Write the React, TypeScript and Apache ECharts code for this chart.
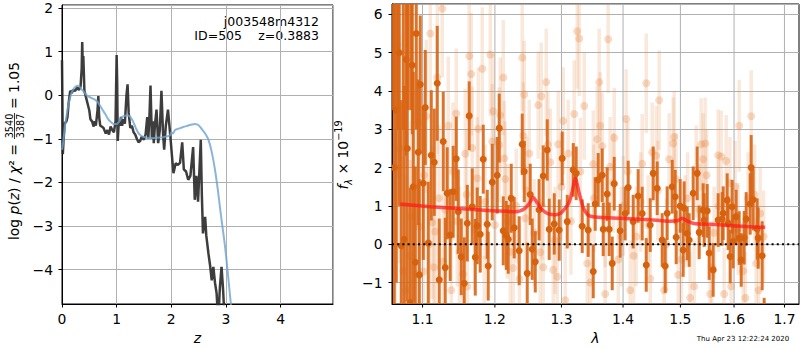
import { useEffect, useRef } from 'react';
import * as echarts from 'echarts';

const F = 'DejaVu Sans';

// ---------- left panel: log p(z) ----------
const pzZ = [0.000,0.008,0.015,0.030,0.050,0.080,0.100,0.120,0.150,0.180,0.200,0.240,0.280,0.310,0.340,0.360,0.370,0.380,0.390,0.410,0.440,0.470,0.500,0.520,0.550,0.580,0.600,0.620,0.650,0.665,0.680,0.700,0.730,0.760,0.800,0.830,0.860,0.890,0.920,0.950,0.980,1.000,1.010,1.020,1.040,1.060,1.080,1.100,1.120,1.150,1.180,1.200,1.220,1.250,1.280,1.310,1.340,1.370,1.400,1.430,1.460,1.500,1.530,1.560,1.580,1.600,1.620,1.645,1.660,1.680,1.700,1.730,1.760,1.790,1.820,1.850,1.870,1.900,1.940,1.980,2.020,2.040,2.080,2.120,2.160,2.200,2.230,2.270,2.310,2.350,2.400,2.430,2.460,2.490,2.540,2.560,2.580,2.620,2.640,2.680,2.710,2.740,2.770,2.800,2.830,2.860,2.890,2.920,2.950,2.990,3.050];
const pzLog = [0.80,-0.20,-1.35,-1.00,-0.65,-0.60,-0.50,-0.20,0.10,0.05,0.12,0.10,0.18,0.12,0.20,0.60,1.22,0.70,0.90,0.10,-0.05,-0.20,-0.35,-0.55,-0.60,-0.72,-0.60,-0.70,-0.35,-0.02,-0.50,-0.70,-0.72,-0.75,-0.88,-0.80,-0.90,-0.72,-0.80,-0.85,-0.60,0.92,0.30,-1.05,-0.60,-0.70,-0.50,-0.70,-0.55,-0.65,0.00,0.25,-0.40,-0.75,-0.70,-0.85,-0.90,-1.00,-1.08,-1.05,-0.95,-1.02,-0.90,-0.50,-1.00,-0.50,0.22,-1.00,-0.60,-1.10,-0.70,-0.33,-1.10,-0.80,0.10,-0.90,-1.25,-0.70,-0.33,-0.90,-1.50,-1.79,-1.56,-1.60,-1.55,-1.08,-1.70,-1.75,-1.94,-1.85,-1.19,-2.40,-1.85,-2.44,-1.02,-2.30,-3.17,-2.79,-3.21,-3.63,-3.90,-4.25,-3.94,-4.30,-4.55,-5.20,-4.40,-3.94,-4.50,-5.50,-7.00];

const fitZ = [0.00,0.02,0.05,0.08,0.12,0.16,0.20,0.25,0.30,0.35,0.40,0.45,0.50,0.55,0.60,0.65,0.70,0.75,0.80,0.85,0.90,0.95,1.00,1.05,1.10,1.15,1.20,1.25,1.30,1.35,1.40,1.45,1.50,1.60,1.70,1.80,1.90,1.98,2.00,2.03,2.07,2.15,2.22,2.30,2.38,2.44,2.50,2.56,2.62,2.68,2.74,2.80,2.85,2.89,2.93,2.97,3.00,3.03,3.06,3.09,3.12];
const fitLog = [-1.25,-1.10,-0.75,-0.50,-0.20,0.00,0.12,0.20,0.22,0.15,0.08,0.00,-0.04,-0.07,-0.10,-0.15,-0.25,-0.35,-0.45,-0.56,-0.62,-0.66,-0.66,-0.60,-0.50,-0.47,-0.46,-0.50,-0.60,-0.75,-0.87,-0.93,-0.96,-0.98,-0.98,-0.97,-0.95,-0.92,-0.85,-0.88,-0.80,-0.76,-0.73,-0.70,-0.67,-0.66,-0.69,-0.78,-0.88,-1.02,-1.30,-1.71,-2.15,-2.56,-2.95,-3.33,-3.65,-4.02,-4.40,-4.78,-5.20];

// ---------- right panel: spectrum ----------
const specLam = [1.0619,1.0632,1.0658,1.0683,1.0696,1.0722,1.0748,1.0761,1.0786,1.0800,1.0813,1.0839,1.0852,1.0865,1.0878,1.0904,1.0917,1.0943,1.0957,1.0970,1.1009,1.1036,1.1076,1.1116,1.1156,1.1196,1.1223,1.1277,1.1304,1.1331,1.1372,1.1413,1.1455,1.1483,1.1524,1.1566,1.1608,1.1635,1.1677,1.1720,1.1748,1.1790,1.1833,1.1890,1.1904,1.1962,1.2034,1.2063,1.2121,1.2165,1.2194,1.2238,1.2282,1.2356,1.2401,1.2431,1.2476,1.2521,1.2551,1.2597,1.2655,1.2718,1.2780,1.2810,1.2888,1.2965,1.3012,1.3091,1.3186,1.3233,1.3329,1.3425,1.3507,1.3539,1.3588,1.3653,1.3670,1.3736,1.3769,1.3819,1.3852,1.3952,1.4036,1.4087,1.4172,1.4257,1.4326,1.4396,1.4465,1.4517,1.4587,1.4675,1.4728,1.4763,1.4853,1.4906,1.4924,1.4996,1.5050,1.5068,1.5123,1.5159,1.5232,1.5306,1.5342,1.5416,1.5435,1.5491,1.5528,1.5603,1.5697,1.5773,1.5792,1.5868,1.5887,1.5925,1.5963,1.5983,1.6041,1.6099,1.6138,1.6196,1.6235,1.6313,1.6333,1.6372,1.6451,1.6471,1.6550,1.6590];
const specFlux = [7.5,2.0,3.5,8.0,5.0,-0.04,9.0,0.13,4.82,2.5,7.0,-1.52,6.5,4.67,1.5,-0.47,5.5,2.40,-0.8,4.17,1.59,3.57,0.03,2.32,2.14,4.20,-0.93,2.68,-0.61,1.33,0.24,1.37,2.23,0.85,-0.33,-1.02,0.55,3.35,0.98,-0.34,0.48,0.26,2.22,0.52,-0.57,1.62,1.80,3.03,0.35,0.23,0.13,1.20,0.43,-0.17,2.61,1.90,-0.76,1.30,-0.13,-0.46,0.90,1.78,2.46,0.39,0.53,0.37,2.24,0.59,1.94,1.85,0.47,0.37,-0.71,1.05,1.68,1.80,0.39,1.31,0.39,-0.50,1.58,0.35,0.80,1.48,0.59,1.26,0.80,-0.54,0.50,1.85,1.46,0.11,-0.57,0.81,1.50,1.24,0.18,1.00,-0.15,0.94,0.28,0.11,1.33,1.85,0.31,0.89,0.63,0.87,-0.23,-0.67,0.63,0.66,0.81,1.15,0.55,-0.32,0.98,0.07,0.72,0.16,-0.41,0.17,0.66,1.05,2.00,1.16,0.40,0.16,-0.30,-2.20];
const specErr = [4.0,4.5,4.5,5.0,4.0,3.8,6.0,4.0,2.5,4.0,3.5,3.0,3.0,1.8,3.0,2.5,2.5,1.9,2.5,1.8,2.0,1.5,1.6,1.7,1.4,1.5,1.6,1.3,1.3,1.2,1.2,1.2,1.1,1.1,1.0,1.2,1.0,0.9,1.0,1.0,1.0,1.0,0.9,0.9,0.9,1.0,1.0,0.9,0.9,0.9,0.9,0.9,0.8,0.9,0.8,0.8,0.8,0.8,0.8,0.8,0.8,0.8,0.8,0.8,0.8,0.8,0.7,0.7,0.7,0.7,0.7,0.7,0.7,0.7,0.7,0.7,0.7,0.7,0.7,0.7,0.7,0.7,0.7,0.7,0.7,0.7,0.7,0.7,0.7,0.7,0.7,0.7,0.7,0.7,0.7,0.7,0.7,0.7,0.7,0.7,0.7,0.7,0.7,0.7,0.7,0.7,0.7,0.7,0.7,0.7,0.7,0.7,0.7,0.7,0.7,0.7,0.7,0.7,0.7,0.7,0.7,0.7,0.7,0.8,0.85,0.8,0.8,0.8,0.9,0.8];

const rawLam = [1.0645,1.0670,1.0700,1.0748,1.0780,1.0839,1.0852,1.0890,1.0930,1.0943,1.0957,1.1009,1.1020,1.1049,1.1089,1.1103,1.1129,1.1150,1.1169,1.1196,1.1220,1.1264,1.1277,1.1310,1.1345,1.1386,1.1410,1.1455,1.1469,1.1500,1.1552,1.1580,1.1600,1.1608,1.1635,1.1663,1.1677,1.1710,1.1748,1.1762,1.1819,1.1847,1.1860,1.1933,1.1962,1.1976,1.2000,1.2063,1.2077,1.2121,1.2136,1.2150,1.2180,1.2224,1.2267,1.2312,1.2360,1.2401,1.2416,1.2431,1.2446,1.2470,1.2506,1.2580,1.2642,1.2672,1.2688,1.2700,1.2718,1.2764,1.2790,1.2826,1.2872,1.2900,1.2934,1.2950,1.3000,1.3028,1.3059,1.3106,1.3150,1.3201,1.3249,1.3281,1.3300,1.3361,1.3410,1.3458,1.3507,1.3520,1.3572,1.3604,1.3620,1.3653,1.3700,1.3703,1.3752,1.3785,1.3840,1.3852,1.3919,1.3970,1.4003,1.4053,1.4080,1.4121,1.4180,1.4223,1.4300,1.4326,1.4396,1.4430,1.4465,1.4500,1.4570,1.4600,1.4622,1.4710,1.4750,1.4799,1.4870,1.4888,1.4920,1.4960,1.5020,1.5087,1.5130,1.5177,1.5250,1.5287,1.5350,1.5379,1.5416,1.5454,1.5480,1.5547,1.5580,1.5622,1.5697,1.5705,1.5754,1.5810,1.5849,1.5920,1.5944,1.6021,1.6080,1.6099,1.6176,1.6220,1.6274,1.6333,1.6400,1.6431,1.6480,1.6510,1.6580];
const rawFlux = [2.0,5.2,2.5,-0.7,-1.2,-0.30,0.72,1.5,-0.78,3.17,0.46,-0.71,1.8,3.34,0.00,5.50,0.57,-0.6,0.33,4.35,1.2,6.15,-0.45,0.9,3.10,-1.20,1.9,3.41,0.60,-0.2,-0.78,2.36,1.3,-1.10,4.91,4.44,2.51,0.4,1.72,3.01,4.58,-1.80,1.1,4.95,2.68,3.47,0.5,2.59,3.37,4.35,2.24,1.7,0.60,-0.20,-0.62,1.00,-0.9,4.87,2.83,3.91,0.68,1.4,2.37,0.3,3.63,-0.21,3.86,1.0,-0.60,4.23,2.6,2.14,-0.67,0.1,-0.85,2.61,1.5,3.22,-1.46,2.37,0.6,3.40,5.56,5.37,1.9,3.61,-0.5,-1.00,2.09,1.2,2.74,4.23,3.09,2.56,0.7,-1.30,5.35,2.02,1.6,2.78,-0.40,0.2,1.00,3.27,1.9,-1.20,-0.3,0.20,1.1,2.10,4.20,0.5,-0.90,2.40,2.31,1.4,3.76,-1.20,0.0,2.22,2.63,2.80,1.7,-0.80,-0.4,0.60,1.2,-1.40,-1.1,1.90,0.9,2.61,2.22,2.63,1.8,-1.30,-0.6,0.30,2.32,1.0,2.29,-1.3,2.17,1.6,-1.10,1.50,0.4,3.09,-0.70,-1.4,1.20,3.34,1.3,-0.50,-1.2,0.80,0.2];
const rawErr = [4.5,3.5,3.0,3.0,3.0,2.5,2.5,2.5,2.2,2.2,2.0,2.2,2.2,2.0,2.0,2.0,2.0,2.0,2.0,2.0,1.9,1.8,1.8,1.8,1.8,1.8,1.8,1.7,1.7,1.7,1.7,1.7,1.7,1.7,1.7,1.6,1.6,1.6,1.6,1.6,1.6,1.5,1.5,1.6,1.5,1.5,1.5,1.5,1.5,1.5,1.5,1.5,1.5,1.5,1.5,1.5,1.4,1.4,1.4,1.4,1.4,1.4,1.4,1.4,1.4,1.4,1.4,1.4,1.4,1.4,1.4,1.4,1.4,1.4,1.4,1.4,1.4,1.4,1.4,1.4,1.4,1.4,1.5,1.5,1.4,1.4,1.4,1.4,1.4,1.4,1.4,1.4,1.4,1.4,1.3,1.3,1.4,1.3,1.3,1.3,1.3,1.3,1.3,1.3,1.3,1.3,1.3,1.3,1.3,1.3,1.3,1.3,1.3,1.3,1.3,1.3,1.3,1.2,1.2,1.2,1.2,1.2,1.2,1.2,1.2,1.2,1.2,1.2,1.2,1.2,1.2,1.2,1.2,1.2,1.2,1.2,1.2,1.2,1.2,1.2,1.2,1.2,1.2,1.2,1.2,1.2,1.2,1.2,1.3,1.2,1.2,1.2,1.3,1.2,1.2,1.2,1.2,1.2];

const modelLam = [1.0709,1.1103,1.1649,1.2034,1.2297,1.2371,1.2431,1.2506,1.2566,1.2627,1.2703,1.2800,1.2900,1.2981,1.3059,1.3122,1.3170,1.3217,1.3281,1.3345,1.3425,1.3539,1.3952,1.4465,1.4799,1.4960,1.5032,1.5105,1.5250,1.5547,1.5887,1.6235,1.6610];
const modelFlux = [1.05,0.98,0.91,0.87,0.85,0.87,0.92,1.06,1.22,1.08,0.90,0.79,0.77,0.80,0.94,1.10,1.38,1.72,1.33,0.96,0.76,0.71,0.68,0.64,0.60,0.62,0.68,0.62,0.54,0.52,0.49,0.46,0.44];

const lamTicks = [1.1, 1.2, 1.3, 1.4, 1.5, 1.6, 1.7];

const LAM_MIN = 1.0603;
const LAM_MAX = 1.730;
const RY_MIN = -1.56;
const RY_MAX = 6.27;

const fixMinus = (v: number) => String(v).replace('-', '\u2212');

function errRender(barColor: string, dotColor: string, barW: number, r: number) {
  return (params: any, api: any) => {
    const x = api.value(0);
    const y = api.value(1);
    const e = api.value(2);
    const cs = params.coordSys;
    const c = api.coord([x, y]);
    const t = api.coord([x, y + e]);
    const b = api.coord([x, y - e]);
    const top = Math.max(t[1], cs.y);
    const bot = Math.min(b[1], cs.y + cs.height);
    const children: any[] = [];
    if (bot > top) {
      children.push({
        type: 'rect',
        shape: { x: c[0] - barW / 2, y: top, width: barW, height: bot - top },
        style: { fill: barColor },
      });
    }
    if (c[1] >= cs.y && c[1] <= cs.y + cs.height) {
      children.push({ type: 'circle', shape: { cx: c[0], cy: c[1], r }, style: { fill: dotColor } });
    }
    return { type: 'group', children };
  };
}

export default function App() {
  const ref = useRef<HTMLDivElement>(null);
  useEffect(() => {
    document.body.style.margin = '0';
    const chart = echarts.init(ref.current!, null, { renderer: 'svg' });
    const tickText = { color: '#000', fontSize: 13.9, fontFamily: F };
    const option: any = {
      animation: false,
      backgroundColor: '#fff',
      grid: [
        { left: 62, right: 467, top: 5, bottom: 46, show: true, borderColor: '#000', borderWidth: 1, backgroundColor: 'transparent' },
        { left: 392, right: 1, top: 4, bottom: 46, show: true, borderColor: '#000', borderWidth: 1, backgroundColor: 'transparent' },
      ],
      xAxis: [
        {
          gridIndex: 0, type: 'value', min: 0, max: 4.96, interval: 1,
          axisLine: { show: true, onZero: false, lineStyle: { color: '#000', width: 1 } },
          axisTick: { show: true, length: 3.5, lineStyle: { color: '#000' } },
          axisLabel: { ...tickText, margin: 8, showMaxLabel: false, formatter: fixMinus },
          splitLine: { show: true, lineStyle: { color: '#b0b0b0', width: 1 } },
          name: 'z', nameLocation: 'middle', nameGap: 27,
          nameTextStyle: { fontStyle: 'italic', fontSize: 14, fontFamily: F, color: '#000' },
        },
        {
          gridIndex: 1, type: 'value', min: Math.log(LAM_MIN), max: Math.log(LAM_MAX),
          axisLine: { show: true, onZero: false, lineStyle: { color: '#000', width: 1 } },
          axisTick: { show: false }, axisLabel: { show: false }, splitLine: { show: false },
          name: 'λ', nameLocation: 'middle', nameGap: 27,
          nameTextStyle: { fontStyle: 'italic', fontSize: 14, fontFamily: F, color: '#000' },
        },
      ],
      yAxis: [
        {
          gridIndex: 0, type: 'value', min: -4.79, max: 2.07, splitNumber: 7,
          axisLine: { show: true, onZero: false, lineStyle: { color: '#000', width: 1 } },
          axisTick: { show: true, length: 3.5, lineStyle: { color: '#000' } },
          axisLabel: { ...tickText, margin: 9, showMinLabel: false, showMaxLabel: false, formatter: fixMinus },
          splitLine: { show: true, lineStyle: { color: '#b0b0b0', width: 1 } },
        },
        {
          gridIndex: 1, type: 'value', min: RY_MIN, max: RY_MAX, splitNumber: 8,
          axisLine: { show: true, onZero: false, lineStyle: { color: '#000', width: 1 } },
          axisTick: { show: true, length: 3.5, lineStyle: { color: '#000' } },
          axisLabel: { ...tickText, margin: 9.5, showMinLabel: false, showMaxLabel: false, formatter: fixMinus },
          splitLine: { show: true, lineStyle: { color: '#b0b0b0', width: 1 } },
        },
      ],
      series: [
        {
          type: 'line', xAxisIndex: 0, yAxisIndex: 0, z: 3, showSymbol: false, symbol: 'none',
          data: pzZ.map((z, i) => [z, pzLog[i]]),
          lineStyle: { color: 'rgba(45,45,45,0.92)', width: 2.5 },
        },
        {
          type: 'line', xAxisIndex: 0, yAxisIndex: 0, z: 4, showSymbol: false, symbol: 'none', smooth: 0.3,
          data: fitZ.map((z, i) => [z, fitLog[i]]),
          lineStyle: { color: 'rgba(110,162,206,0.8)', width: 2 },
        },
        {
          type: 'custom', xAxisIndex: 1, yAxisIndex: 1, z: 1, silent: true, clip: false,
          data: lamTicks.map((v) => [Math.log(v), 0]),
          encode: { x: 0, y: 1 },
          renderItem: (params: any, api: any) => {
            const x = api.value(0);
            const top = api.coord([x, RY_MAX]);
            const bot = api.coord([x, RY_MIN]);
            return {
              type: 'group',
              children: [
                { type: 'line', shape: { x1: top[0], y1: top[1] + 0.5, x2: bot[0], y2: bot[1] }, style: { stroke: '#b0b0b0', lineWidth: 1 } },
                { type: 'line', shape: { x1: bot[0], y1: bot[1], x2: bot[0], y2: bot[1] + 3.5 }, style: { stroke: '#000', lineWidth: 1 } },
                {
                  type: 'text', x: bot[0], y: bot[1] + 8,
                  style: { text: lamTicks[params.dataIndex].toFixed(1), fill: '#000', fontSize: 13.9, fontFamily: F, align: 'center', verticalAlign: 'top' },
                },
              ],
            };
          },
        },
        {
          type: 'custom', xAxisIndex: 1, yAxisIndex: 1, z: 2, silent: true, clip: true,
          data: rawLam.map((l, i) => [Math.log(l), rawFlux[i], rawErr[i]]),
          encode: { x: 0, y: 1 },
          renderItem: errRender('rgba(232,140,75,0.2)', 'rgba(232,140,75,0.32)', 3.5, 4),
        },
        {
          type: 'custom', xAxisIndex: 1, yAxisIndex: 1, z: 3, silent: true, clip: true,
          data: specLam.map((l, i) => [Math.log(l), specFlux[i], specErr[i]]),
          encode: { x: 0, y: 1 },
          renderItem: errRender('rgba(216,101,20,0.9)', 'rgb(214,98,14)', 3, 3.5),
        },
        {
          type: 'line', xAxisIndex: 1, yAxisIndex: 1, z: 4, showSymbol: false, symbol: 'none', smooth: 0.25,
          data: modelLam.map((l, i) => [Math.log(l), modelFlux[i]]),
          lineStyle: { color: 'rgba(255,25,25,0.72)', width: 3.5 },
        },
        {
          type: 'line', xAxisIndex: 1, yAxisIndex: 1, z: 5, showSymbol: false, symbol: 'none',
          data: [[Math.log(LAM_MIN), 0], [Math.log(LAM_MAX), 0]],
          lineStyle: { color: '#000', width: 2, type: [2, 3.2] },
        },
      ],
      graphic: [
        {
          type: 'text', x: 319, y: 21,
          style: { text: 'j003548m4312', fill: '#000', fontSize: 12.5, fontFamily: F, align: 'right', verticalAlign: 'middle' },
        },
        {
          type: 'text', x: 242, y: 35.5,
          style: { text: 'ID=505', fill: '#000', fontSize: 12.5, fontFamily: F, align: 'right', verticalAlign: 'middle' },
        },
        {
          type: 'text', x: 319, y: 35.5,
          style: { text: 'z=0.3883', fill: '#000', fontSize: 12.5, fontFamily: F, align: 'right', verticalAlign: 'middle' },
        },
        {
          type: 'group', x: 14, y: 240, rotation: Math.PI / 2,
          children: [
            {
              type: 'text', x: 0, y: 0,
              style: {
                text: '{n|log }{i|p}{n|(}{i|z}{n|) / }{i|χ}{n|² =}',
                rich: {
                  n: { fontSize: 13.9, fontFamily: F, fill: '#000' },
                  i: { fontSize: 13.9, fontFamily: F, fontStyle: 'italic', fill: '#000' },
                },
                align: 'left', verticalAlign: 'middle',
              },
            },
            { type: 'text', x: 114, y: -5, style: { text: '3540', fill: '#000', fontSize: 9.7, fontFamily: F, align: 'center', verticalAlign: 'middle' } },
            { type: 'line', shape: { x1: 101, y1: 0.5, x2: 127, y2: 0.5 }, style: { stroke: '#000', lineWidth: 0.8 } },
            { type: 'text', x: 114, y: 6, style: { text: '3387', fill: '#000', fontSize: 9.7, fontFamily: F, align: 'center', verticalAlign: 'middle' } },
            { type: 'text', x: 131, y: 0, style: { text: '= 1.05', fill: '#000', fontSize: 13.9, fontFamily: F, align: 'left', verticalAlign: 'middle' } },
          ],
        },
        {
          type: 'text', x: 343, y: 155, rotation: Math.PI / 2,
          style: {
            text: '{i|f}{sub|λ}{n| × 10}{sup|−19}',
            rich: {
              i: { fontSize: 13.9, fontFamily: F, fontStyle: 'italic', fill: '#000', lineHeight: 20 },
              n: { fontSize: 13.9, fontFamily: F, fill: '#000', lineHeight: 20 },
              sub: { fontSize: 9.7, fontFamily: F, fontStyle: 'italic', fill: '#000', lineHeight: 11, verticalAlign: 'bottom' },
              sup: { fontSize: 9.7, fontFamily: F, fill: '#000', lineHeight: 11, verticalAlign: 'top' },
            },
            align: 'center', verticalAlign: 'middle',
          },
        },
        {
          type: 'text', x: 743, y: 339,
          style: { text: 'Thu Apr 23 12:22:24 2020', fill: '#000', fontSize: 7, fontFamily: F, align: 'center', verticalAlign: 'middle' },
        },
      ],
    };
    chart.setOption(option);
    return () => chart.dispose();
  }, []);
  return <div ref={ref} style={{ width: 800, height: 350 }} />;
}
